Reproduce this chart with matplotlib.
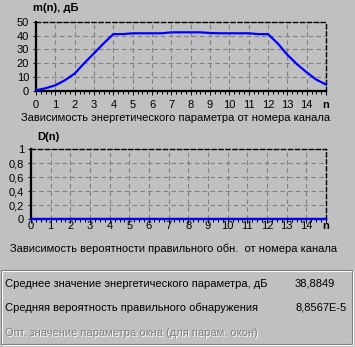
import numpy as np
import matplotlib
matplotlib.use("Agg")
import matplotlib.pyplot as plt
from matplotlib.patches import Rectangle

plt.rcParams['font.family'] = ['Liberation Sans', 'DejaVu Sans']

# Energy parameter m(n), dB, sampled every half channel
n_m = [0, 0.5, 1, 1.5, 2, 2.5, 3, 3.5, 4, 4.5, 5, 5.5, 6, 6.5, 7, 7.5,
       8, 8.5, 9, 9.5, 10, 10.5, 11, 11.5, 12, 12.5, 13, 13.5, 14, 14.5, 15]
m_vals = [0.3, 1.8, 3.9, 7.6, 12.4, 20.0, 27.1, 34.3, 41.0, 41.0, 41.6, 41.6,
          41.6, 41.6, 42.3, 42.3, 42.3, 42.3, 41.8, 41.6, 41.6, 41.6, 41.6, 41.0,
          41.0, 34.3, 26.0, 19.2, 13.3, 8.0, 4.5]

# Detection probability D(n)
n_d = list(range(16))
d_vals = [8.8567e-5] * 16

x_labels = [str(i) for i in range(15)] + ['n']
m_ticks = [0, 10, 20, 30, 40, 50]
d_ticks = [0, 0.2, 0.4, 0.6, 0.8, 1]
d_tick_labels = ['0', '0,2', '0,4', '0,6', '0,8', '1']

title_m = 'm(n), дБ'
title_d = 'D(n)'
caption_m = 'Зависимость энергетического параметра от номера канала'
caption_d = 'Зависимость вероятности правильного обн.  от номера канала'

stat_names = ['Среднее значение энергетического параметра, дБ',
              'Средняя вероятность правильного обнаружения',
              'Опт. значение параметра окна (для парам. окон)']
stat_values = ['38,8849', '8,8567E-5', '']

BG = '#c0c0c0'
W, H = 355, 347
fs = 8


def style_axes(ax, yticks, ylabels, ypad, xpad):
    ax.set_facecolor(BG)
    ax.set_xlim(0, 15)
    ax.set_ylim(yticks[0], yticks[-1])
    ax.set_xticks(range(16))
    ax.set_xticklabels(x_labels, fontsize=fs)
    ax.get_xticklabels()[-1].set_fontweight('bold')
    ax.set_xticks(np.arange(0, 15.01, 0.25), minor=True)
    ax.set_yticks(yticks)
    ax.set_yticklabels(ylabels, fontsize=fs)
    ax.tick_params(axis='x', which='major', length=3, width=0.7, pad=xpad)
    ax.tick_params(axis='x', which='minor', length=2, width=0.7)
    ax.tick_params(axis='y', which='major', length=2, width=0.7, pad=ypad)
    ax.grid(True, color='#808080', linestyle=(0, (4, 3)), linewidth=0.8)
    for side in ('left', 'bottom'):
        ax.spines[side].set_linewidth(1.6)
        ax.spines[side].set_color('black')
    for side in ('top', 'right'):
        ax.spines[side].set_linestyle((0, (3, 2)))
        ax.spines[side].set_linewidth(1.0)
        ax.spines[side].set_color('black')


fig = plt.figure(figsize=(W / 100, H / 100), dpi=100, facecolor=BG)

ax1 = fig.add_axes([36 / W, 1 - 90.7 / H, 290 / W, 69 / H])
ax1.plot(n_m, m_vals, color='#0000ff', linewidth=1.6, clip_on=False, zorder=5)
style_axes(ax1, m_ticks, [str(t) for t in m_ticks], 3, 4)

ax2 = fig.add_axes([31 / W, 1 - 219.3 / H, 295 / W, 70 / H])
ax2.plot(n_d, d_vals, color='#0000ff', linewidth=1.6, clip_on=False, zorder=5)
style_axes(ax2, d_ticks, d_tick_labels, 3, -1.5)

fig.text(33 / W, 1 - 8 / H, title_m, fontsize=fs, fontweight='bold', va='center')
fig.text(37 / W, 1 - 137 / H, title_d, fontsize=fs, fontweight='bold', va='center')
fig.text(176 / W, 1 - 118 / H, caption_m, fontsize=fs, ha='center', va='center')
fig.text(174 / W, 1 - 249 / H, caption_d, fontsize=fs, ha='center', va='center')

# Etched frame around the summary block
fig.patches.append(Rectangle((2 / W, 1 - 345 / H), 351 / W, 74 / H, transform=fig.transFigure,
                             fill=False, edgecolor='white', linewidth=0.8))
fig.patches.append(Rectangle((1 / W, 1 - 344 / H), 351 / W, 74 / H, transform=fig.transFigure,
                             fill=False, edgecolor='#808080', linewidth=0.8))

rows_y = [284, 308, 333]
for i, (name, val) in enumerate(zip(stat_names, stat_values)):
    y = 1 - rows_y[i] / H
    if val:
        fig.text(5 / W, y, name, fontsize=fs, va='center', color='black')
        fig.text(295 / W, y, val, fontsize=fs, va='center', color='black')
    else:
        # disabled label: grey text with white emboss
        fig.text(6 / W, y - 1 / H, name, fontsize=fs, va='center', color='white')
        fig.text(5 / W, y, name, fontsize=fs, va='center', color='#808080')

fig.savefig('out.png', dpi=100, facecolor=BG)
